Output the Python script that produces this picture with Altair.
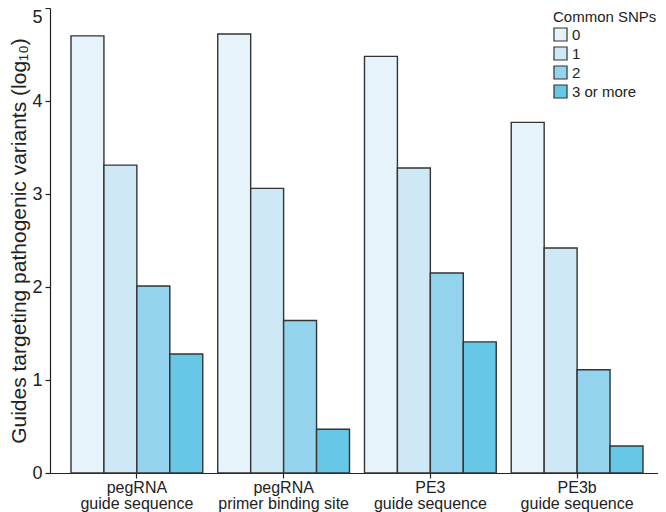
import altair as alt
import pandas as pd

groups = ["pegRNA|guide sequence", "pegRNA|primer binding site", "PE3|guide sequence", "PE3b|guide sequence"]
snps = ["0", "1", "2", "3 or more"]
values = [
    [4.70, 3.31, 2.01, 1.28],
    [4.72, 3.06, 1.64, 0.47],
    [4.48, 3.28, 2.15, 1.41],
    [3.77, 2.42, 1.11, 0.29],
]
colors = ["#e6f3fa", "#cee9f5", "#94d3ee", "#66c7e6"]

rows = []
for g, vals in zip(groups, values):
    for s, v in zip(snps, vals):
        rows.append({"group": g, "snp": s, "value": v})
df = pd.DataFrame(rows)

FONT = "Liberation Sans"

chart = alt.Chart(df).mark_bar(stroke="#333333", strokeWidth=1.4).encode(
    x=alt.X("group:N", sort=groups, title=None,
            scale=alt.Scale(paddingInner=0.1022, paddingOuter=0.1227, align=0.583),
            axis=alt.Axis(labelExpr="split(datum.label, '|')", labelAngle=0,
                          labelFontSize=16, labelFont=FONT, labelColor="#222",
                          labelLineHeight=16, labelPadding=1,
                          tickSize=5, tickColor="#222", domainColor="#222",
                          domainWidth=1.2, tickWidth=1.2, labelBaseline="top")),
    xOffset=alt.XOffset("snp:N", sort=snps, scale=alt.Scale(paddingInner=0, paddingOuter=0)),
    y=alt.Y("value:Q", scale=alt.Scale(domain=[0, 5], nice=False),
            title="Guides targeting pathogenic variants (log₁₀)",
            axis=alt.Axis(values=[0, 1, 2, 3, 4, 5], grid=False, labelFontSize=18,
                          labelFont=FONT, labelColor="#222", tickSize=5, tickColor="#222",
                          domainColor="#222", domainWidth=1.2, tickWidth=1.2,
                          labelBaseline={"condition": {"test": "datum.value == 5", "value": "top"},
                                         "value": "middle"},
                          labelPadding=3, titleFont=FONT, titleFontSize=21,
                          titleFontWeight="normal", titleColor="#222", titlePadding=2)),
    fill=alt.Fill("snp:N", sort=snps, scale=alt.Scale(domain=snps, range=colors),
                  legend=alt.Legend(title="Common SNPs", orient="none", legendX=503, legendY=2,
                                    titleFont=FONT, titleFontSize=15, titleFontWeight="normal",
                                    titleColor="#222", labelFont=FONT, labelFontSize=15,
                                    labelColor="#222", symbolType="square", symbolSize=170,
                                    symbolStrokeColor="#333333", symbolStrokeWidth=1.2,
                                    rowPadding=0, labelOffset=4, titlePadding=2)),
).properties(
    width=608, height=465,
    autosize=alt.AutoSizeParams(type="none"),
    padding={"left": 42, "top": 0, "right": 0, "bottom": 39},
).configure_view(stroke=None)

chart.save("out.html", embed_options={"renderer": "svg", "actions": False})
